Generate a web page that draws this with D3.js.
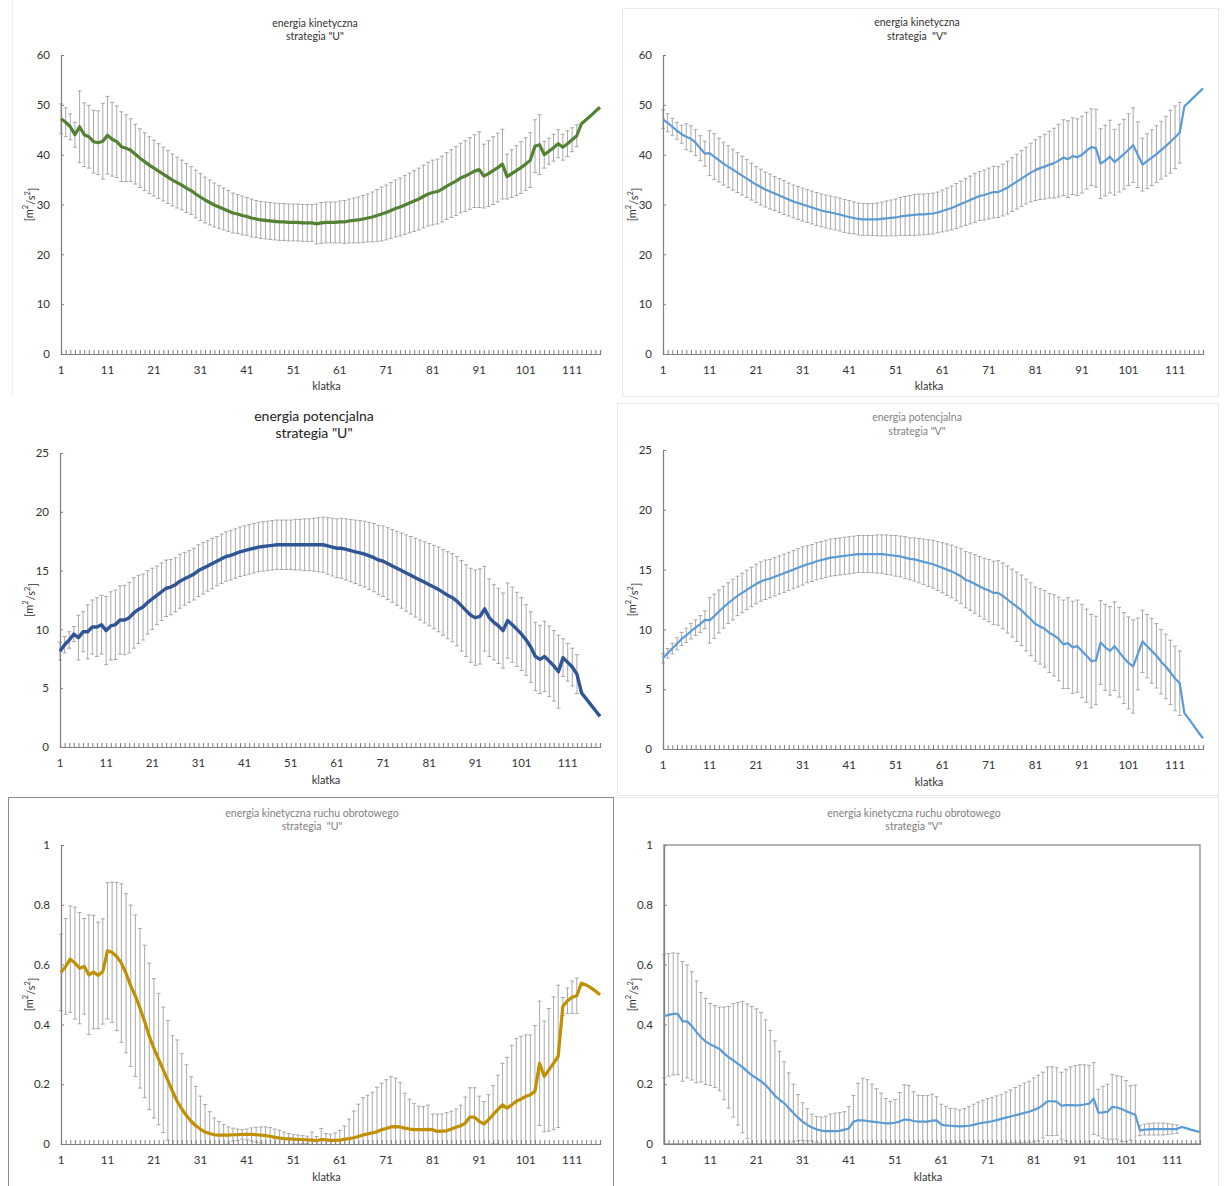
<!DOCTYPE html>
<html>
<head>
<meta charset="utf-8">
<script src="https://cdnjs.cloudflare.com/ajax/libs/d3/7.8.5/d3.min.js"></script>
<style>
  body { margin: 0; background: #fff; }
  text { font-family: Lato, "Liberation Sans", sans-serif; }
</style>
</head>
<body>
<svg id="chart" width="1224" height="1186"></svg>
<script>
// ---- data (frame = klatka 1..N) ----
const xTickLabels = [1, 11, 21, 31, 41, 51, 61, 71, 81, 91, 101, 111];
const yTicksKin = [0, 10, 20, 30, 40, 50, 60];
const yTicksPot = [0, 5, 10, 15, 20, 25];
const yTicksRot = [0, 0.2, 0.4, 0.6, 0.8, 1];

// energia kinetyczna, strategia "U"
const kinU_mean = [47.2,46.5,45.6,44.0,45.6,44.0,43.6,42.6,42.4,42.7,
  43.9,43.1,42.6,41.6,41.3,40.9,40.1,39.3,38.6,37.9,
  37.3,36.7,36.1,35.5,34.9,34.4,33.9,33.3,32.8,32.1,
  31.5,30.9,30.4,29.9,29.5,29.1,28.7,28.3,28.1,27.8,
  27.6,27.3,27.1,26.9,26.8,26.7,26.6,26.5,26.5,26.4,
  26.4,26.4,26.3,26.3,26.3,26.1,26.3,26.4,26.4,26.4,
  26.5,26.5,26.7,26.8,26.9,27.1,27.3,27.5,27.8,28.1,
  28.4,28.8,29.2,29.5,29.9,30.3,30.7,31.1,31.6,32.1,
  32.4,32.6,33.1,33.7,34.2,34.7,35.3,35.7,36.2,36.7,
  37.0,35.7,36.2,36.8,37.4,38.1,35.6,36.2,36.8,37.4,
  38.1,38.9,41.7,42.0,40.0,40.7,41.4,42.2,41.5,42.2,
  43.0,43.8,46.2,47.0,47.8,48.7,49.5];
const kinU_sd = [3.0,2.9,2.6,2.5,7.2,6.4,6.3,6.3,6.4,7.6,
  7.8,7.4,7.2,7.0,6.7,6.3,6.0,5.9,5.8,5.7,
  5.6,5.5,5.4,5.3,5.2,5.1,5.0,4.9,4.8,4.8,
  4.7,4.6,4.5,4.4,4.3,4.2,4.1,4.0,3.9,3.9,
  3.8,3.8,3.7,3.7,3.7,3.7,3.7,3.7,3.7,3.7,
  3.7,3.7,3.7,3.7,3.7,4.0,4.1,4.1,4.1,4.1,
  4.2,4.3,4.4,4.5,4.6,4.7,4.8,5.0,5.2,5.4,
  5.5,5.6,5.7,5.8,5.9,6.0,6.1,6.2,6.3,6.4,
  6.5,6.5,6.6,6.7,6.8,6.9,7.0,7.1,7.2,7.3,
  7.6,6.4,6.6,6.8,6.9,7.0,4.5,4.8,5.0,5.2,
  5.3,5.5,5.3,6.0,2.7,2.6,2.7,2.8,2.6,2.6,
  2.4,2.2];

// energia kinetyczna, strategia "V"
const kinV_mean = [47.1,46.4,45.6,44.8,44.1,43.6,43.2,42.4,41.3,40.2,
  40.3,39.6,38.9,38.2,37.6,37.0,36.4,35.8,35.2,34.6,
  34.0,33.5,33.0,32.6,32.2,31.8,31.4,31.0,30.6,30.3,
  30.0,29.7,29.4,29.1,28.8,28.6,28.4,28.2,28.0,27.7,
  27.5,27.3,27.1,27.0,27.0,27.0,27.0,27.1,27.2,27.3,
  27.4,27.6,27.7,27.8,27.9,28.0,28.0,28.1,28.2,28.4,
  28.7,29.0,29.3,29.7,30.1,30.5,30.9,31.3,31.7,31.9,
  32.2,32.5,32.5,32.9,33.4,34.0,34.6,35.2,35.8,36.4,
  36.9,37.3,37.6,38.0,38.3,38.8,39.4,39.1,39.7,39.5,
  40.0,40.8,41.5,41.3,38.2,38.8,39.6,38.5,39.3,40.1,
  41.0,41.9,40.0,38.0,38.7,39.4,40.1,40.9,41.7,42.6,
  43.5,44.4,49.7,50.6,51.5,52.4,53.3];
const kinV_sd = [1.9,1.8,1.7,1.7,1.8,2.6,2.6,2.6,2.5,2.5,
  4.5,4.6,4.4,4.3,4.2,4.1,4.0,3.9,3.8,3.7,
  3.6,3.6,3.5,3.5,3.4,3.4,3.4,3.3,3.3,3.3,
  3.3,3.3,3.3,3.3,3.3,3.3,3.3,3.3,3.3,3.3,
  3.3,3.2,3.2,3.2,3.2,3.2,3.3,3.4,3.5,3.6,
  3.7,3.8,3.9,4.0,4.1,4.1,4.1,4.1,4.1,4.1,
  4.2,4.3,4.4,4.5,4.6,4.7,4.8,4.9,4.9,5.0,
  5.1,5.2,5.1,5.2,5.3,5.4,5.5,5.6,5.7,5.9,
  6.1,6.3,6.5,6.7,7.0,7.3,7.6,7.7,7.7,7.7,
  7.7,7.7,7.7,7.8,7.0,7.1,7.3,6.6,6.8,7.0,
  7.2,7.5,6.6,5.3,5.5,5.6,5.7,5.8,6.0,6.3,
  6.3,6.1];

// energia potencjalna, strategia "U"
const potU_mean = [8.15,8.7,9.1,9.6,9.3,9.8,9.8,10.2,10.2,10.4,
  9.9,10.3,10.4,10.8,10.8,11.0,11.4,11.7,11.9,12.3,
  12.6,12.9,13.2,13.5,13.6,13.8,14.1,14.3,14.5,14.7,
  15.0,15.2,15.4,15.6,15.8,16.0,16.2,16.3,16.45,16.6,
  16.7,16.8,16.9,17.0,17.05,17.1,17.15,17.2,17.2,17.2,
  17.2,17.2,17.2,17.2,17.2,17.2,17.2,17.2,17.1,17.0,
  16.9,16.9,16.8,16.7,16.6,16.5,16.4,16.25,16.1,15.9,
  15.8,15.6,15.4,15.2,15.0,14.8,14.6,14.4,14.2,14.0,
  13.8,13.6,13.4,13.15,12.9,12.7,12.4,12.0,11.6,11.2,
  11.0,11.1,11.75,11.0,10.6,10.3,9.9,10.75,10.4,10.0,
  9.6,9.1,8.5,7.7,7.45,7.7,7.3,6.9,6.4,7.6,
  7.2,6.8,6.2,4.6,4.1,3.6,3.1,2.6];
const potU_sd = [0.75,0.7,0.7,0.65,1.9,1.7,2.3,2.3,2.5,2.5,
  2.9,2.9,2.95,2.9,2.95,3.0,3.0,2.9,2.8,2.7,
  2.6,2.5,2.45,2.4,2.35,2.3,2.3,2.25,2.2,2.2,
  2.2,2.2,2.15,2.15,2.1,2.1,2.1,2.1,2.1,2.1,
  2.1,2.1,2.1,2.1,2.1,2.1,2.1,2.1,2.1,2.1,
  2.1,2.15,2.15,2.2,2.2,2.25,2.3,2.35,2.4,2.45,
  2.5,2.55,2.6,2.65,2.7,2.75,2.8,2.85,2.9,2.95,
  3.0,3.05,3.1,3.15,3.2,3.25,3.3,3.35,3.4,3.45,
  3.5,3.55,3.6,3.65,3.7,3.75,3.8,3.85,3.9,4.0,
  4.05,4.05,3.6,3.3,3.2,3.2,3.2,3.2,3.2,3.15,
  3.1,3.0,3.0,2.9,2.9,3.0,3.0,3.0,3.1,1.6,
  1.6,1.6,1.65];

// energia potencjalna, strategia "V"
const potV_mean = [7.6,8.0,8.4,8.8,9.2,9.5,9.85,10.15,10.45,10.8,
  10.75,11.1,11.5,11.85,12.2,12.5,12.8,13.05,13.3,13.55,
  13.8,14.0,14.15,14.25,14.4,14.55,14.7,14.85,15.0,15.15,
  15.3,15.45,15.55,15.7,15.8,15.9,16.0,16.05,16.1,16.15,
  16.2,16.25,16.3,16.3,16.3,16.3,16.3,16.3,16.25,16.2,
  16.15,16.1,16.0,15.9,15.85,15.75,15.65,15.55,15.45,15.3,
  15.15,15.0,14.85,14.65,14.45,14.15,14.0,13.8,13.6,13.4,
  13.25,13.05,13.05,12.8,12.5,12.2,11.9,11.6,11.2,10.85,
  10.45,10.25,10.05,9.7,9.5,9.2,8.75,8.85,8.5,8.6,
  8.2,7.8,7.35,7.4,8.9,8.5,8.2,8.6,8.1,7.6,
  7.2,6.9,7.95,9.0,8.6,8.2,7.8,7.3,6.9,6.4,
  5.9,5.5,3.0,2.5,1.95,1.4,0.9];
const potV_sd = [0.4,0.4,0.45,0.5,0.55,0.6,0.65,0.65,0.7,0.75,
  1.9,1.85,1.8,1.75,1.7,1.7,1.65,1.65,1.65,1.65,
  1.65,1.65,1.65,1.6,1.6,1.6,1.6,1.6,1.6,1.6,
  1.6,1.55,1.55,1.55,1.55,1.55,1.55,1.55,1.55,1.55,
  1.55,1.55,1.55,1.55,1.55,1.55,1.6,1.6,1.65,1.65,
  1.7,1.7,1.75,1.75,1.8,1.85,1.9,1.95,2.0,2.05,
  2.1,2.15,2.2,2.25,2.3,2.35,2.4,2.45,2.5,2.55,
  2.6,2.65,2.7,2.75,2.8,2.85,2.9,2.95,3.0,3.05,
  3.1,3.15,3.2,3.3,3.4,3.5,3.7,3.8,3.85,3.85,
  3.9,3.9,3.9,3.7,3.5,3.6,3.7,3.7,3.75,3.8,
  3.85,3.9,3.0,2.6,2.65,2.7,2.7,2.7,2.7,2.7,
  2.7,2.7];

// energia kinetyczna ruchu obrotowego, strategia "U"
const rotU_mean = [0.574,0.594,0.618,0.605,0.588,0.594,0.566,0.575,0.564,0.577,
  0.646,0.641,0.627,0.605,0.571,0.529,0.496,0.454,0.41,0.36,
  0.32,0.284,0.248,0.213,0.176,0.143,0.117,0.095,0.076,0.061,
  0.05,0.04,0.035,0.031,0.03,0.03,0.03,0.031,0.031,0.032,
  0.032,0.032,0.031,0.03,0.028,0.026,0.022,0.02,0.018,0.017,
  0.016,0.015,0.015,0.014,0.013,0.011,0.015,0.014,0.012,0.012,
  0.013,0.016,0.018,0.021,0.025,0.03,0.034,0.037,0.041,0.048,
  0.052,0.057,0.058,0.057,0.053,0.05,0.048,0.048,0.048,0.049,
  0.048,0.042,0.043,0.044,0.05,0.056,0.061,0.07,0.09,0.09,
  0.076,0.067,0.081,0.098,0.115,0.131,0.12,0.131,0.143,0.15,
  0.159,0.165,0.176,0.27,0.226,0.248,0.27,0.293,0.46,0.479,
  0.491,0.496,0.538,0.532,0.523,0.512,0.499];
const rotU_sd = [0.128,0.16,0.178,0.187,0.186,0.16,0.2,0.19,0.178,0.176,
  0.228,0.235,0.248,0.265,0.266,0.27,0.27,0.267,0.255,0.245,
  0.233,0.22,0.21,0.2,0.186,0.205,0.185,0.17,0.149,0.132,
  0.11,0.092,0.073,0.056,0.045,0.035,0.027,0.022,0.019,0.016,
  0.018,0.022,0.025,0.027,0.029,0.029,0.028,0.026,0.022,0.018,
  0.016,0.015,0.013,0.012,0.027,0.014,0.037,0.021,0.021,0.025,
  0.032,0.044,0.065,0.089,0.108,0.125,0.129,0.136,0.149,0.155,
  0.163,0.168,0.162,0.148,0.117,0.1,0.087,0.079,0.077,0.081,
  0.052,0.058,0.057,0.061,0.06,0.061,0.069,0.087,0.098,0.098,
  0.084,0.075,0.084,0.097,0.115,0.139,0.17,0.199,0.209,0.21,
  0.206,0.2,0.22,0.208,0.185,0.205,0.222,0.238,0.03,0.043,
  0.054,0.059];

// energia kinetyczna ruchu obrotowego, strategia "V"
const rotV_mean = [0.427,0.432,0.435,0.435,0.41,0.41,0.395,0.375,0.357,0.343,
  0.333,0.326,0.318,0.303,0.29,0.28,0.268,0.257,0.243,0.23,
  0.22,0.21,0.197,0.18,0.162,0.148,0.137,0.12,0.104,0.088,
  0.075,0.064,0.055,0.049,0.045,0.043,0.043,0.043,0.044,0.048,
  0.052,0.075,0.079,0.079,0.077,0.075,0.073,0.071,0.069,0.069,
  0.071,0.075,0.082,0.081,0.077,0.075,0.075,0.075,0.078,0.079,
  0.065,0.062,0.061,0.06,0.059,0.06,0.061,0.064,0.068,0.071,
  0.073,0.076,0.08,0.084,0.088,0.092,0.096,0.1,0.104,0.108,
  0.114,0.12,0.13,0.143,0.143,0.142,0.128,0.13,0.13,0.129,
  0.13,0.132,0.135,0.152,0.105,0.106,0.108,0.124,0.122,0.117,
  0.11,0.104,0.098,0.045,0.048,0.049,0.05,0.05,0.05,0.05,
  0.05,0.05,0.057,0.053,0.048,0.044,0.04];
const rotV_sd = [0.206,0.205,0.204,0.203,0.2,0.189,0.181,0.17,0.15,0.144,
  0.137,0.137,0.14,0.155,0.17,0.19,0.205,0.22,0.225,0.23,
  0.232,0.23,0.218,0.2,0.183,0.162,0.138,0.118,0.096,0.077,
  0.063,0.054,0.045,0.043,0.045,0.05,0.057,0.06,0.061,0.06,
  0.073,0.087,0.124,0.141,0.138,0.125,0.112,0.099,0.083,0.074,
  0.078,0.097,0.116,0.115,0.098,0.088,0.087,0.087,0.089,0.079,
  0.068,0.064,0.058,0.058,0.055,0.059,0.064,0.069,0.072,0.075,
  0.079,0.08,0.081,0.082,0.086,0.089,0.093,0.096,0.1,0.102,
  0.107,0.11,0.11,0.115,0.115,0.113,0.112,0.12,0.128,0.133,
  0.135,0.133,0.128,0.12,0.078,0.087,0.092,0.108,0.106,0.108,
  0.102,0.091,0.099,0.017,0.018,0.019,0.02,0.02,0.02,0.018,
  0.016,0.014];

// ---- layout of the six panels ----
const panels = [
  { mean: kinU_mean, sd: kinU_sd, yTicks: yTicksKin, color: '#548235', lw: 3.2,
    box: { l: 61, r: 600, t: 55, b: 354 }, title: ['energia kinetyczna', 'strategia "U"'],
    tx: 315, ty: [23, 36], tColor: '#333', tSize: 10.5, xLabY: 370, xTitleY: 386, yTitleX: 29, frame: null },
  { mean: kinV_mean, sd: kinV_sd, yTicks: yTicksKin, color: '#5b9bd5', lw: 2.2,
    box: { l: 663, r: 1203, t: 55, b: 354 }, title: ['energia kinetyczna', 'strategia  "V"'],
    tx: 917, ty: [22, 36], tColor: '#333', tSize: 10.5, xLabY: 370, xTitleY: 386, yTitleX: 632, frame: null },
  { mean: potU_mean, sd: potU_sd, yTicks: yTicksPot, color: '#2f5597', lw: 3.4,
    box: { l: 60, r: 600, t: 453, b: 747 }, title: ['energia potencjalna', 'strategia "U"'],
    tx: 314, ty: [416, 433], tColor: '#222', tSize: 14, xLabY: 763, xTitleY: 780, yTitleX: 29, frame: null },
  { mean: potV_mean, sd: potV_sd, yTicks: yTicksPot, color: '#5b9bd5', lw: 2.2,
    box: { l: 663, r: 1203, t: 450, b: 749 }, title: ['energia potencjalna', 'strategia "V"'],
    tx: 917, ty: [417, 431], tColor: '#7f7f7f', tSize: 10.5, xLabY: 765, xTitleY: 782, yTitleX: 632, frame: null },
  { mean: rotU_mean, sd: rotU_sd, yTicks: yTicksRot, color: '#bf9000', lw: 3.2,
    box: { l: 61, r: 600, t: 845, b: 1144 }, title: ['energia kinetyczna ruchu obrotowego', 'strategia  "U"'],
    tx: 312, ty: [813, 826], tColor: '#7f7f7f', tSize: 10.5, xLabY: 1160, xTitleY: 1177, yTitleX: 29, frame: null },
  { mean: rotV_mean, sd: rotV_sd, yTicks: yTicksRot, color: '#5b9bd5', lw: 2.2,
    box: { l: 664, r: 1200, t: 845, b: 1144 }, title: ['energia kinetyczna ruchu obrotowego', 'strategia "V"'],
    tx: 914, ty: [813, 826], tColor: '#7f7f7f', tSize: 10.5, xLabY: 1160, xTitleY: 1177, yTitleX: 632, frame: true }
];

const svg = d3.select('#chart');
svg.append('rect').attr('width', 1224).attr('height', 1186).attr('fill', '#fff');

// chart-area borders
svg.append('line').attr('x1', 12.5).attr('x2', 12.5).attr('y1', 0).attr('y2', 395).attr('stroke', '#efefef');
svg.append('rect').attr('x', 622.5).attr('y', 8.5).attr('width', 596).attr('height', 388)
  .attr('fill', 'none').attr('stroke', '#e8e8e8');
svg.append('rect').attr('x', 617.5).attr('y', 403.5).attr('width', 601).attr('height', 392)
  .attr('fill', 'none').attr('stroke', '#e8e8e8');
svg.append('rect').attr('x', 8.5).attr('y', 797.5).attr('width', 605).attr('height', 400)
  .attr('fill', 'none').attr('stroke', '#8c8c8c');
svg.append('line').attr('x1', 614.5).attr('x2', 1218).attr('y1', 797.5).attr('y2', 797.5).attr('stroke', '#ececec');
svg.append('line').attr('x1', 1218.5).attr('x2', 1218.5).attr('y1', 797).attr('y2', 1186).attr('stroke', '#e6e6e6');

panels.forEach(p => drawPanel(p));

function drawPanel(p) {
  const n = p.mean.length;
  const frames = d3.range(1, n + 1);
  const yMax = p.yTicks[p.yTicks.length - 1];

  const x = d3.scaleLinear().domain([1, n]).range([p.box.l, p.box.r]);
  const y = d3.scaleLinear().domain([0, yMax]).range([p.box.b, p.box.t]);

  const g = svg.append('g');

  if (p.frame) {
    g.append('rect').attr('x', p.box.l).attr('y', p.box.t)
      .attr('width', p.box.r - p.box.l).attr('height', p.box.b - p.box.t)
      .attr('fill', 'none').attr('stroke', '#808080').attr('stroke-width', 1.2);
  }

  // error bars (only where the reference shows them)
  const bars = p.sd.map((s, i) => ({ f: i + 1, lo: p.mean[i] - s, hi: p.mean[i] + s }));
  const eb = g.append('g').attr('stroke', '#9f9f9f').attr('stroke-width', 0.9);
  eb.selectAll('line.bar').data(bars).join('line').attr('class', 'bar')
    .attr('x1', d => x(d.f)).attr('x2', d => x(d.f))
    .attr('y1', d => y(Math.max(0, d.lo))).attr('y2', d => y(Math.min(yMax, d.hi)));
  eb.selectAll('line.capHi').data(bars.filter(d => d.hi <= yMax)).join('line').attr('class', 'capHi')
    .attr('x1', d => x(d.f) - 2).attr('x2', d => x(d.f) + 2)
    .attr('y1', d => y(d.hi)).attr('y2', d => y(d.hi));
  eb.selectAll('line.capLo').data(bars.filter(d => d.lo >= 0)).join('line').attr('class', 'capLo')
    .attr('x1', d => x(d.f) - 2).attr('x2', d => x(d.f) + 2)
    .attr('y1', d => y(d.lo)).attr('y2', d => y(d.lo));

  // axes
  const yAxis = d3.axisLeft(y).tickValues(p.yTicks).tickSize(-3).tickPadding(11).tickFormat(d3.format('~g'));
  const yg = g.append('g').attr('transform', `translate(${p.box.l},0)`).call(yAxis);
  const xMinor = d3.axisBottom(x).tickValues(frames).tickSize(-4).tickFormat('');
  const xg = g.append('g').attr('transform', `translate(0,${p.box.b})`).call(xMinor);
  [yg, xg].forEach(a => {
    a.select('.domain').attr('stroke', '#7f7f7f').attr('stroke-width', 1.2);
    a.selectAll('.tick line').attr('stroke', '#7f7f7f');
  });
  yg.selectAll('.tick text').attr('fill', '#333').attr('font-size', 11.5)
    .attr('font-family', 'Lato, "Liberation Sans", sans-serif');

  g.selectAll('text.xlab').data(xTickLabels).join('text').attr('class', 'xlab')
    .attr('x', d => x(d)).attr('y', p.xLabY).attr('dy', '0.35em')
    .attr('text-anchor', 'middle').attr('font-size', 11.5).attr('fill', '#333').text(d => d);

  // mean line
  const line = d3.line().x((d, i) => x(i + 1)).y(d => y(d));
  g.append('path').datum(p.mean).attr('d', line).attr('fill', 'none')
    .attr('stroke', p.color).attr('stroke-width', p.lw).attr('stroke-linejoin', 'round');

  // titles
  p.title.forEach((t, k) => {
    g.append('text').attr('x', p.tx).attr('y', p.ty[k]).attr('dy', '0.35em')
      .attr('text-anchor', 'middle').attr('font-size', p.tSize).attr('fill', p.tColor)
      .style('white-space', 'pre').text(t);
  });
  g.append('text').attr('x', (p.box.l + p.box.r) / 2 - 4).attr('y', p.xTitleY).attr('dy', '0.35em')
    .attr('text-anchor', 'middle').attr('font-size', 11).attr('fill', '#333').text('klatka');
  const yt = g.append('text')
    .attr('transform', `translate(${p.yTitleX},${(p.box.t + p.box.b) / 2}) rotate(-90)`)
    .attr('dy', '0.35em').attr('text-anchor', 'middle').attr('font-size', 11).attr('fill', '#333');
  yt.append('tspan').text('[m');
  yt.append('tspan').attr('font-size', 7.5).attr('dy', '-0.6em').text('2');
  yt.append('tspan').attr('dy', '0.6em').text('/s');
  yt.append('tspan').attr('font-size', 7.5).attr('dy', '-0.6em').text('2');
  yt.append('tspan').attr('dy', '0.6em').text(']');
}
</script>
</body>
</html>
